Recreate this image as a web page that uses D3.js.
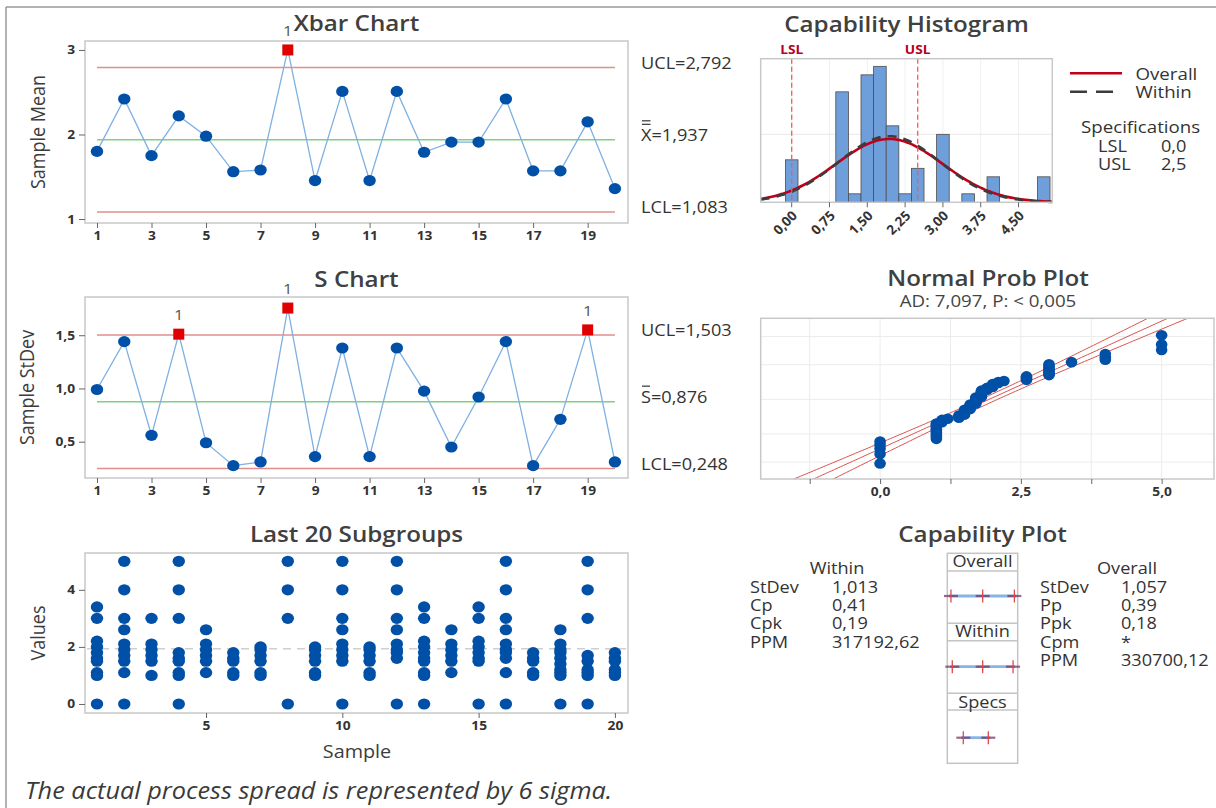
<!DOCTYPE html>
<html>
<head>
<meta charset="utf-8">
<script src="https://cdn.jsdelivr.net/npm/d3@7"></script>
<style>
  body { margin: 0; background: #fff; }
  text { font-family: "Open Sans", sans-serif; fill: #333; }
</style>
</head>
<body>
<div id="chart"></div>
<script>
// ---- data ----
var sampleIds = [1, 2, 3, 4, 5, 6, 7, 8, 9, 10, 11, 12, 13, 14, 15, 16, 17, 18, 19, 20];
var sampleTicks = [1, 3, 5, 7, 9, 11, 13, 15, 17, 19];
var subgroupTicks = [5, 10, 15, 20];

var xbarValues = [1.80, 2.42, 1.75, 2.22, 1.98, 1.56, 1.58, 3.00, 1.455, 2.51, 1.455, 2.51, 1.79, 1.91, 1.91, 2.42, 1.57, 1.57, 2.15, 1.36];
var xbarLimits = [2.792, 1.937, 1.083];
var xbarLabels = ["UCL=2,792", "X=1,937", "LCL=1,083"];
var xbarFlags = [8];

var sValues = [0.99, 1.44, 0.56, 1.51, 0.49, 0.275, 0.31, 1.755, 0.36, 1.38, 0.36, 1.38, 0.975, 0.45, 0.92, 1.44, 0.275, 0.71, 1.55, 0.31];
var sLimits = [1.503, 0.876, 0.248];
var sLabels = ["UCL=1,503", "S=0,876", "LCL=0,248"];
var sFlags = [4, 8, 19];

var subgroups = [
  [0, 1, 1.1, 1.5, 1.6, 1.8, 2, 2.2, 3, 3.4],
  [0, 1.1, 1.5, 1.7, 1.9, 2.1, 2.6, 3, 4, 5],
  [1, 1.5, 1.7, 1.9, 2.1, 3],
  [0, 1, 1.1, 1.5, 1.6, 1.8, 3, 4, 5],
  [1.1, 1.5, 1.7, 1.9, 2.1, 2.6],
  [1, 1.1, 1.5, 1.6, 1.8],
  [1, 1.1, 1.5, 1.7, 1.9, 2],
  [0, 3, 4, 5],
  [1, 1.1, 1.5, 1.7, 1.9, 2],
  [0, 1.5, 1.7, 1.9, 2.1, 2.6, 3, 4, 5],
  [1, 1.1, 1.5, 1.7, 1.9, 2],
  [0, 1.6, 1.8, 1.9, 2.1, 2.6, 3, 4, 5],
  [0, 1, 1.1, 1.5, 1.6, 1.8, 2, 2.2, 3, 3.4],
  [1.1, 1.5, 1.7, 1.9, 2.1, 2.6],
  [0, 1.5, 1.6, 1.8, 2, 2.2, 3, 3.4],
  [0, 1.1, 1.6, 1.8, 1.9, 2.1, 2.6, 3, 4, 5],
  [1, 1.1, 1.5, 1.6, 1.8],
  [0, 1, 1.1, 1.2, 1.4, 1.6, 1.8, 1.9, 2.1, 2.6],
  [0, 1, 1.1, 1.2, 1.5, 1.7, 3, 4, 5],
  [1, 1.1, 1.2, 1.5, 1.6, 1.8]
];

// all observations (distinct value + how many), used by histogram and prob plot
var obsValues = [0, 1.0, 1.1, 1.2, 1.4, 1.5, 1.6, 1.7, 1.8, 1.9, 2.0, 2.1, 2.2, 2.6, 3.0, 3.4, 4.0, 5.0];
var obsCounts = [5, 10, 3, 1, 3, 6, 6, 8, 8, 3, 4, 2, 1, 4, 8, 1, 3, 3];

var processMean = 1.937;
var sdWithin = 1.013;
var sdOverall = 1.057;
var specLimits = [0, 2.5];
var histTicks = [0, 0.75, 1.5, 2.25, 3, 3.75, 4.5];
var probTicks = [-1.25, 0, 1.25, 2.5, 3.75, 5];
var probLabelTicks = [0, 2.5, 5];
var probGridPct = [1, 10, 50, 90, 99];
var probBandHalf = 0.151;

var withinNames = ["StDev", "Cp", "Cpk", "PPM"];
var withinStats = ["1,013", "0,41", "0,19", "317192,62"];
var overallNames = ["StDev", "Pp", "Ppk", "Cpm", "PPM"];
var overallStats = ["1,057", "0,39", "0,18", "*", "330700,12"];

// ---- setup ----
var SX = 1.1; // the picture's text is slightly wide
var blue = "#0050a8";
var titleFill = "#404040";

var svg = d3.select("#chart").append("svg")
  .attr("width", 1216)
  .attr("height", 808);

function label(g, x, y, str, size, opts) {
  opts = opts || {};
  var t = g.append("text")
    .attr("transform", `translate(${x},${y}) scale(${SX},1)`)
    .attr("font-size", size)
    .attr("text-anchor", opts.anchor || "start")
    .attr("font-weight", opts.weight || 400)
    .text(str);
  if (opts.fill) t.style("fill", opts.fill);
  if (opts.italic) t.attr("font-style", "italic");
  return t;
}

function vlabel(g, x, y, str, size) {
  g.append("text")
    .attr("transform", `translate(${x},${y}) rotate(-90) scale(1,${SX})`)
    .attr("font-size", size)
    .attr("text-anchor", "middle")
    .style("fill", "#3c3c3c")
    .text(str);
}

function frame(g, x0, y0, x1, y1) {
  g.append("rect")
    .attr("x", x0).attr("y", y0)
    .attr("width", x1 - x0).attr("height", y1 - y0)
    .attr("fill", "none")
    .attr("stroke", "#c8c8c8")
    .attr("stroke-width", 1.5);
}

function styleAxis(g) {
  g.select(".domain").remove();
  g.attr("font-size", 12.5).attr("font-weight", 700);
  g.selectAll(".tick line").attr("stroke", "#666");
  g.selectAll(".tick text").attr("transform", `scale(${SX},1)`);
}

var comma1 = d => d3.format(".1f")(d).replace(".", ",");
var comma2 = d => d3.format(".2f")(d).replace(".", ",");

// outer border
svg.append("line").attr("x1", 6).attr("x2", 1216).attr("y1", 7).attr("y2", 7)
  .attr("stroke", "#999").attr("stroke-width", 1.5);
svg.append("line").attr("x1", 6).attr("x2", 6).attr("y1", 7).attr("y2", 808)
  .attr("stroke", "#999").attr("stroke-width", 1.5);

// ---- left column: control charts ----
var L = { x0: 85, x1: 628 };
var xSample = d3.scaleLinear().domain([0.56, 20.48]).range([L.x0, L.x1]);

function controlChart(cfg) {
  var g = svg.append("g");
  var y = d3.scaleLinear().domain(cfg.yDomain).range([cfg.bottom, cfg.top]);

  frame(g, L.x0, cfg.top, L.x1, cfg.bottom);

  g.append("g")
    .attr("transform", `translate(0,${cfg.bottom})`)
    .call(d3.axisBottom(xSample).tickValues(sampleTicks).tickSize(5).tickPadding(3))
    .call(styleAxis);

  g.append("g")
    .attr("transform", `translate(${L.x0},0)`)
    .call(d3.axisLeft(y).tickValues(cfg.yTicks).tickFormat(cfg.fmt).tickSize(6).tickPadding(3))
    .call(styleAxis);

  var lineColors = ["#e28e8e", "#80d080", "#e28e8e"];
  cfg.limits.forEach(function(v, i) {
    g.append("line")
      .attr("x1", xSample(sampleIds[0]))
      .attr("x2", xSample(sampleIds[sampleIds.length - 1]))
      .attr("y1", y(v)).attr("y2", y(v))
      .attr("stroke", lineColors[i])
      .attr("stroke-width", 1.5);
    var by = y(v) + 1;
    var t = label(g, 641, by, cfg.labels[i], 16.5);
    if (i === 1) {
      // bar(s) over the X / S
      var w = t.node().getSubStringLength(0, 1) * SX;
      for (var k = 0; k < cfg.bars; k++) {
        g.append("line")
          .attr("x1", 641 + 1).attr("x2", 641 + w - 1)
          .attr("y1", by - 16.5 - k * 3.5).attr("y2", by - 16.5 - k * 3.5)
          .attr("stroke", "#333").attr("stroke-width", 1.2);
      }
    }
  });

  var pts = sampleIds.map((s, i) => ({ s: s, v: cfg.values[i] }));

  g.append("path")
    .datum(pts)
    .attr("d", d3.line().x(d => xSample(d.s)).y(d => y(d.v)))
    .attr("fill", "none")
    .attr("stroke", "#7fb0e2")
    .attr("stroke-width", 1.3);

  g.selectAll(".pt")
    .data(pts.filter(d => cfg.flags.indexOf(d.s) < 0))
    .enter()
    .append("ellipse")
    .attr("cx", d => xSample(d.s))
    .attr("cy", d => y(d.v))
    .attr("rx", 6.2).attr("ry", 5.6)
    .attr("fill", blue);

  var flagged = pts.filter(d => cfg.flags.indexOf(d.s) >= 0);
  g.selectAll(".flag")
    .data(flagged)
    .enter()
    .append("rect")
    .attr("x", d => xSample(d.s) - 5.5)
    .attr("y", d => y(d.v) - 5.5)
    .attr("width", 11).attr("height", 11)
    .attr("fill", "#e00000");

  flagged.forEach(function(d) {
    label(g, xSample(d.s), y(d.v) - 14, "1", 15, { anchor: "middle", fill: "#555" });
  });

  label(g, (L.x0 + L.x1) / 2, cfg.titleY, cfg.title, 22, { anchor: "middle", weight: 600, fill: titleFill });
  vlabel(g, cfg.yTitleX, (cfg.top + cfg.bottom) / 2, cfg.yTitle, 18);
}

controlChart({
  top: 41, bottom: 223, yDomain: [0.953, 3.106],
  yTicks: [1, 2, 3], fmt: d3.format("d"),
  values: xbarValues, limits: xbarLimits, labels: xbarLabels, bars: 2, flags: xbarFlags,
  title: "Xbar Chart", titleY: 31, yTitle: "Sample Mean", yTitleX: 45
});

controlChart({
  top: 297, bottom: 478, yDomain: [0.159, 1.859],
  yTicks: [0.5, 1.0, 1.5], fmt: comma1,
  values: sValues, limits: sLimits, labels: sLabels, bars: 1, flags: sFlags,
  title: "S Chart", titleY: 286.5, yTitle: "Sample StDev", yTitleX: 34
});

// ---- last 20 subgroups ----
(function() {
  var g = svg.append("g");
  var top = 553, bottom = 713;
  var y = d3.scaleLinear().domain([-0.316, 5.29]).range([bottom, top]);

  frame(g, L.x0, top, L.x1, bottom);

  g.append("g")
    .attr("transform", `translate(0,${bottom})`)
    .call(d3.axisBottom(xSample).tickValues(subgroupTicks).tickSize(5).tickPadding(3))
    .call(styleAxis);
  g.append("g")
    .attr("transform", `translate(${L.x0},0)`)
    .call(d3.axisLeft(y).tickValues([0, 2, 4]).tickFormat(d3.format("d")).tickSize(6).tickPadding(3))
    .call(styleAxis);

  g.append("line")
    .attr("x1", L.x0 + 2).attr("x2", L.x1 - 2)
    .attr("y1", y(processMean)).attr("y2", y(processMean))
    .attr("stroke", "#cfcfcf").attr("stroke-width", 1.5)
    .attr("stroke-dasharray", "8,6");

  var dots = [];
  subgroups.forEach(function(vals, i) {
    vals.forEach(function(v) { dots.push({ s: sampleIds[i], v: v }); });
  });
  g.selectAll(".dot")
    .data(dots)
    .enter()
    .append("ellipse")
    .attr("cx", d => xSample(d.s))
    .attr("cy", d => y(d.v))
    .attr("rx", 6.2).attr("ry", 5.6)
    .attr("fill", blue);

  label(g, (L.x0 + L.x1) / 2, 541.5, "Last 20 Subgroups", 22, { anchor: "middle", weight: 600, fill: titleFill });
  vlabel(g, 45, (top + bottom) / 2, "Values", 18);
  label(g, 357, 758, "Sample", 18, { anchor: "middle", fill: "#3c3c3c" });
})();

// all observations expanded
var observations = [];
obsValues.forEach(function(v, i) {
  for (var k = 0; k < obsCounts[i]; k++) observations.push(v);
});
var N = observations.length;

function normPdf(x, m, s) {
  return Math.exp(-0.5 * Math.pow((x - m) / s, 2)) / (s * Math.sqrt(2 * Math.PI));
}

// inverse normal cdf (Acklam)
function probit(p) {
  var a = [-3.969683028665376e+01, 2.209460984245205e+02, -2.759285104469687e+02, 1.383577518672690e+02, -3.066479806614716e+01, 2.506628277459239e+00];
  var b = [-5.447609879822406e+01, 1.615858368580409e+02, -1.556989798598866e+02, 6.680131188771972e+01, -1.328068155288572e+01];
  var c = [-7.784894002430293e-03, -3.223964580411365e-01, -2.400758277161838e+00, -2.549732539343734e+00, 4.374664141464968e+00, 2.938163982698783e+00];
  var d = [7.784695709041462e-03, 3.224671290700398e-01, 2.445134137142996e+00, 3.754408661907416e+00];
  var pl = 0.02425, q, r;
  if (p < pl) {
    q = Math.sqrt(-2 * Math.log(p));
    return (((((c[0] * q + c[1]) * q + c[2]) * q + c[3]) * q + c[4]) * q + c[5]) / ((((d[0] * q + d[1]) * q + d[2]) * q + d[3]) * q + 1);
  }
  if (p > 1 - pl) {
    q = Math.sqrt(-2 * Math.log(1 - p));
    return -(((((c[0] * q + c[1]) * q + c[2]) * q + c[3]) * q + c[4]) * q + c[5]) / ((((d[0] * q + d[1]) * q + d[2]) * q + d[3]) * q + 1);
  }
  q = p - 0.5; r = q * q;
  return (((((a[0] * r + a[1]) * r + a[2]) * r + a[3]) * r + a[4]) * r + a[5]) * q / (((((b[0] * r + b[1]) * r + b[2]) * r + b[3]) * r + b[4]) * r + 1);
}

// ---- capability histogram ----
(function() {
  var g = svg.append("g");
  var x0 = 760.7, x1 = 1052.3, top = 58.7, bottom = 202.3;
  var x = d3.scaleLinear().domain([-0.615, 5.17]).range([x0, x1]);
  var y = d3.scaleLinear().domain([0, 16.9]).range([bottom, top]);
  var binW = 0.25;

  // faint grid
  g.selectAll(".vg").data(histTicks).enter().append("line")
    .attr("x1", d => x(d)).attr("x2", d => x(d))
    .attr("y1", top).attr("y2", bottom)
    .attr("stroke", "#f0f0f0");
  g.append("line").attr("x1", x0).attr("x2", x1).attr("y1", y(8)).attr("y2", y(8))
    .attr("stroke", "#e8e8e8");

  var bins = d3.bin()
    .domain([-binW / 2, 5 + binW / 2])
    .thresholds(d3.range(-binW / 2, 5 + binW, binW))(observations)
    .filter(b => b.length > 0);

  g.selectAll(".bar")
    .data(bins)
    .enter()
    .append("rect")
    .attr("x", d => x(d.x0))
    .attr("y", d => y(d.length))
    .attr("width", d => x(d.x1) - x(d.x0))
    .attr("height", d => y(0) - y(d.length))
    .attr("fill", "#6f9fdb")
    .attr("stroke", "#4d4d4d")
    .attr("stroke-width", 0.8);

  var xs = d3.range(121).map(i => -0.615 + i * (5.17 + 0.615) / 120);
  var curve = d3.line().x(d => x(d[0])).y(d => y(d[1])).curve(d3.curveBasis);

  g.append("path")
    .datum(xs.map(v => [v, N * binW * normPdf(v, processMean, sdOverall)]))
    .attr("d", curve)
    .attr("fill", "none").attr("stroke", "#c00018").attr("stroke-width", 2.6);
  g.append("path")
    .datum(xs.map(v => [v, N * binW * normPdf(v, processMean, sdWithin)]))
    .attr("d", curve)
    .attr("fill", "none").attr("stroke", "#3c3c3c").attr("stroke-width", 2.6)
    .attr("stroke-dasharray", "9,7");

  // spec limits
  ["LSL", "USL"].forEach(function(name, i) {
    g.append("line")
      .attr("x1", x(specLimits[i])).attr("x2", x(specLimits[i]))
      .attr("y1", top).attr("y2", bottom)
      .attr("stroke", "#ff5555").attr("stroke-width", 1.3)
      .attr("stroke-dasharray", "5,3");
    label(g, x(specLimits[i]), 54, name, 12.5, { anchor: "middle", weight: 700, fill: "#b8001f" });
  });

  frame(g, x0, top, x1, bottom);

  // x ticks with rotated labels
  g.selectAll(".ht").data(histTicks).enter().append("line")
    .attr("x1", d => x(d)).attr("x2", d => x(d))
    .attr("y1", bottom).attr("y2", bottom + 5)
    .attr("stroke", "#666");
  g.selectAll(".hl").data(histTicks).enter().append("text")
    .attr("transform", d => `translate(${x(d) + 3},${bottom + 11}) rotate(-45)`)
    .attr("text-anchor", "end")
    .attr("dy", "0.35em")
    .attr("font-size", 13.5)
    .attr("font-weight", 700)
    .text(comma2);

  label(g, (x0 + x1) / 2, 31.5, "Capability Histogram", 22, { anchor: "middle", weight: 600, fill: titleFill });

  // legend
  g.append("line").attr("x1", 1070).attr("x2", 1122).attr("y1", 73.3).attr("y2", 73.3)
    .attr("stroke", "#c00018").attr("stroke-width", 2.6);
  g.append("line").attr("x1", 1070).attr("x2", 1113).attr("y1", 91.7).attr("y2", 91.7)
    .attr("stroke", "#3c3c3c").attr("stroke-width", 2.6).attr("stroke-dasharray", "17,9");
  label(g, 1135.5, 79.5, "Overall", 17);
  label(g, 1135.5, 98, "Within", 17);
  label(g, 1081, 133, "Specifications", 17);
  label(g, 1098, 151.5, "LSL", 16.5);
  label(g, 1161, 151.5, comma1(specLimits[0]), 16.5);
  label(g, 1098, 169.5, "USL", 16.5);
  label(g, 1161, 169.5, comma1(specLimits[1]), 16.5);
})();

// ---- normal probability plot ----
(function() {
  var g = svg.append("g");
  var x0 = 760.7, x1 = 1214, top = 318.3, bottom = 479;
  var x = d3.scaleLinear().domain([-2.12, 5.93]).range([x0, x1]);
  var y = d3.scaleLinear().domain([-2.95, 3.0]).range([bottom, top]);

  g.selectAll(".vg").data(probTicks).enter().append("line")
    .attr("x1", d => x(d)).attr("x2", d => x(d))
    .attr("y1", top).attr("y2", bottom)
    .attr("stroke", "#ececec");
  g.selectAll(".hg").data(probGridPct).enter().append("line")
    .attr("x1", x0).attr("x2", x1)
    .attr("y1", d => y(probit(d / 100))).attr("y2", d => y(probit(d / 100)))
    .attr("stroke", "#ececec");

  g.append("clipPath").attr("id", "probClip")
    .append("rect").attr("x", x0).attr("y", top).attr("width", x1 - x0).attr("height", bottom - top);

  var zs = d3.range(-3.2, 3.25, 0.05);
  var fit = [0, -1, 1].map(function(sgn) {
    return zs.map(z => [processMean + sdOverall * z + sgn * probBandHalf * Math.sqrt(1 + z * z / 2), z]);
  });
  g.selectAll(".fit").data(fit).enter().append("path")
    .attr("clip-path", "url(#probClip)")
    .attr("d", d3.line().x(d => x(d[0])).y(d => y(d[1])))
    .attr("fill", "none").attr("stroke", "#d9534f").attr("stroke-width", 1);

  var sorted = observations.slice().sort(d3.ascending);
  var pts = sorted.map((v, i) => ({ v: v, z: probit((i + 1 - 0.3) / (N + 0.4)) }));
  g.selectAll(".pp").data(pts).enter().append("ellipse")
    .attr("cx", d => x(d.v))
    .attr("cy", d => y(d.z))
    .attr("rx", 5.8).attr("ry", 5.3)
    .attr("fill", blue);

  frame(g, x0, top, x1, bottom);

  g.append("g")
    .attr("transform", `translate(0,${bottom})`)
    .call(d3.axisBottom(x).tickValues(probTicks).tickSize(5).tickPadding(3)
      .tickFormat(d => probLabelTicks.indexOf(d) >= 0 ? comma1(d) : ""))
    .call(styleAxis);

  label(g, 988, 285.5, "Normal Prob Plot", 22, { anchor: "middle", weight: 600, fill: titleFill });
  label(g, 988, 307, "AD: 7,097, P: < 0,005", 17, { anchor: "middle", fill: "#444" });
})();

// ---- capability plot ----
(function() {
  var g = svg.append("g");
  var bx0 = 947.3, bx1 = 1017.7, btop = 553.3, bbot = 763.3;
  var x = d3.scaleLinear().domain([-1.6, 5.44]).range([bx0, bx1]);

  label(g, 982.5, 541.5, "Capability Plot", 22, { anchor: "middle", weight: 600, fill: titleFill });

  // left / right stat blocks
  label(g, 837, 573.5, "Within", 16.5, { anchor: "middle" });
  withinNames.forEach(function(n, i) {
    label(g, 750, 592.7 + i * 18.3, n, 16.5);
    label(g, 832, 592.7 + i * 18.3, withinStats[i], 16.5);
  });
  label(g, 1127, 573.5, "Overall", 16.5, { anchor: "middle" });
  overallNames.forEach(function(n, i) {
    label(g, 1040, 592.7 + i * 18.3, n, 16.5);
    label(g, 1121, 592.7 + i * 18.3, overallStats[i], 16.5);
  });

  // the box with its three sections
  g.append("rect").attr("x", bx0).attr("y", btop).attr("width", bx1 - bx0).attr("height", bbot - btop)
    .attr("fill", "none").attr("stroke", "#c4c4c4").attr("stroke-width", 1.5);
  [571, 623.3, 640.7, 693.3, 710].forEach(function(yy) {
    g.append("line").attr("x1", bx0).attr("x2", bx1).attr("y1", yy).attr("y2", yy)
      .attr("stroke", "#c4c4c4").attr("stroke-width", 1.5);
  });
  label(g, 982.5, 566.7, "Overall", 16.5, { anchor: "middle" });
  label(g, 982.5, 636.7, "Within", 16.5, { anchor: "middle" });
  label(g, 982.5, 708.3, "Specs", 16.5, { anchor: "middle" });

  var rows = [
    { y: 596, marks: [processMean - 3 * sdOverall, processMean, processMean + 3 * sdOverall] },
    { y: 666.7, marks: [processMean - 3 * sdWithin, processMean, processMean + 3 * sdWithin] },
    { y: 737.7, marks: specLimits }
  ];
  rows.forEach(function(r) {
    var lo = d3.min(r.marks), hi = d3.max(r.marks);
    g.append("line").attr("x1", x(lo) - 2).attr("x2", x(hi) + 2).attr("y1", r.y).attr("y2", r.y)
      .attr("stroke", "#86b4e4").attr("stroke-width", 2.8);
    r.marks.forEach(function(m) {
      g.append("line").attr("x1", x(m) - 7).attr("x2", x(m) + 7).attr("y1", r.y).attr("y2", r.y)
        .attr("stroke", "#7a3466").attr("stroke-width", 2.2).attr("opacity", 0.75);
      g.append("line").attr("x1", x(m)).attr("x2", x(m)).attr("y1", r.y - 6.5).attr("y2", r.y + 6.5)
        .attr("stroke", "#e04848").attr("stroke-width", 1.3);
    });
  });
})();

// footnote
label(svg, 25, 799, "The actual process spread is represented by 6 sigma.", 23, { italic: true, fill: "#3a3a3a" });
</script>
</body>
</html>
